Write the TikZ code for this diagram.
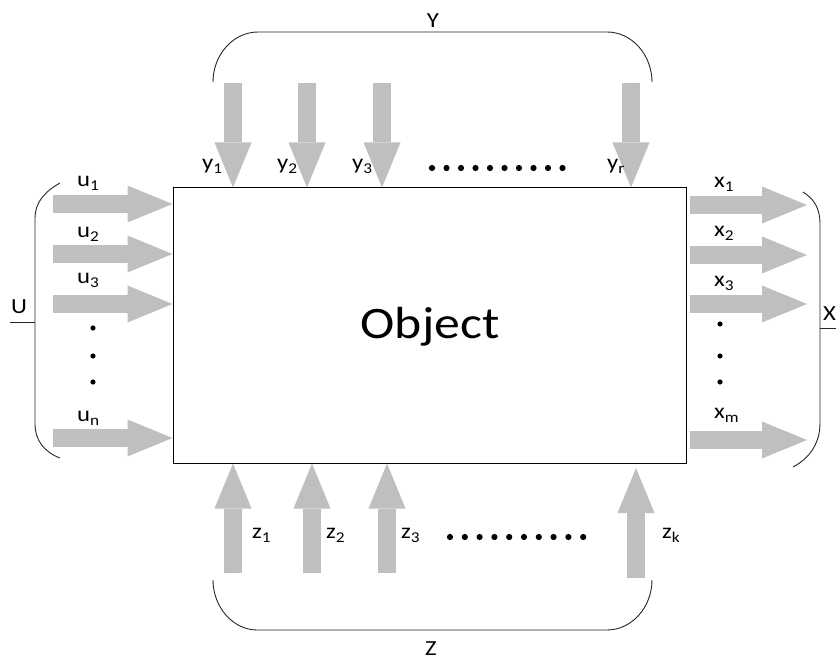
\documentclass[tikz,border=0pt]{standalone}
\usepackage{fontspec}
\setmainfont{Carlito}[FakeStretch=1.15]
\usetikzlibrary{arrows.meta}
\definecolor{arrowgray}{RGB}{191,191,191}
\newcommand\sublab[2]{#1\raisebox{-4pt}{\fontsize{15}{15}\selectfont #2}}
\begin{document}
\begin{tikzpicture}[x=1pt,y=-1pt,
  bigarrow/.style={draw=arrowgray, line width=18pt,
    -{Triangle[length=45pt,width=37pt,line width=0pt,fill=arrowgray]}},
  lbl/.style={font=\fontsize{21.5}{21.5}\selectfont, anchor=base, inner sep=0pt},
  slbl/.style={lbl, anchor=base west},
  brace/.style={draw=black!85, line width=0.9pt},
  objbox/.style={draw=black, line width=1pt, minimum width=513pt, minimum height=275pt, inner sep=0pt},
  dot/.style={fill=black}]
\useasboundingbox (0,0) rectangle (836,660);
% object box
\node[objbox] (obj) at (429.5,325.5) {};
\node[font=\fontsize{45}{45}\selectfont, anchor=base, inner sep=0pt] (objlbl) at (430,339) {Object};
% left inputs u
\foreach \n/\y in {1/204,2/254,3/304,n/438}{
  \coordinate (us\n) at (53,\y);
  \draw[bigarrow] (us\n) -- (us\n -| obj.west);
}
\node[slbl] (lu1) at (77,187) {\sublab{u}{1}};
\node[slbl] (lu2) at (77,238) {\sublab{u}{2}};
\node[slbl] (lu3) at (77,284) {\sublab{u}{3}};
\node[slbl] (lun) at (77,421) {\sublab{u}{n}};
\foreach \y in {328,356,382} \fill[dot] (93,\y) circle (2.6pt);
% right outputs x
\foreach \n/\y in {1/205,2/255,3/304,m/440}{
  \coordinate (xs\n) at (690,\y);
  \coordinate (xe\n) at (807,\y);
  \draw[bigarrow] (xs\n) -- (xe\n);
}
\node[slbl] (lx1) at (714,188) {\sublab{x}{1}};
\node[slbl] (lx2) at (714,237) {\sublab{x}{2}};
\node[slbl] (lx3) at (714,287) {\sublab{x}{3}};
\node[slbl] (lxm) at (714,419) {\sublab{x}{m}};
\foreach \y in {324,356,382} \fill[dot] (720,\y) circle (2.6pt);
% top inputs y
\foreach \n/\x in {1/233,2/307,3/382,r/631}{
  \coordinate (ys\n) at (\x,83);
  \draw[bigarrow] (ys\n) -- (ys\n |- obj.north);
}
\node[slbl] (ly1) at (202,170) {\sublab{y}{1}};
\node[slbl] (ly2) at (277,170) {\sublab{y}{2}};
\node[slbl] (ly3) at (352,170) {\sublab{y}{3}};
\node[slbl] (lyr) at (607,170) {\sublab{y}{r}};
\foreach \i in {0,...,9} \fill[dot] (432+\i*14.5,168) circle (3.1pt);
% bottom inputs z
\foreach \n/\x/\b in {1/233/573,2/312/573,3/387/573}{
  \coordinate (zs\n) at (\x,\b);
  \draw[bigarrow] (zs\n) -- (zs\n |- obj.south);
}
\coordinate (zsk) at (636,578);
\coordinate (zek) at (636,468);
\draw[bigarrow] (zsk) -- (zek);
\node[slbl] (lz1) at (252,538) {\sublab{z}{1}};
\node[slbl] (lz2) at (326,538) {\sublab{z}{2}};
\node[slbl] (lz3) at (401,538) {\sublab{z}{3}};
\node[slbl] (lzk) at (662,538) {\sublab{z}{k}};
\foreach \i in {0,...,9} \fill[dot] (450+\i*14.8,537) circle (3.1pt);
% braces
\draw[brace] (60,183) .. controls (44,192) and (35,203) .. (35,218) -- (35,424) .. controls (35,440) and (44,452) .. (60,458);
\draw[brace] (10,322) -- (35,322);
\node[lbl] (lU) at (19,314) {U};
\draw[brace] (803,192) .. controls (814,199) and (820,208) .. (820,224) -- (820,423) .. controls (820,443) and (810,458) .. (793,467);
\draw[brace] (820,328) -- (836,328);
\node[lbl, anchor=base west] (lX) at (823,321) {X};
\draw[brace] (213,82) .. controls (213,55) and (233,32) .. (258,32) -- (607,32) .. controls (632,32) and (652,55) .. (652,82);
\node[lbl] (lY) at (433,28) {Y};
\draw[brace] (213,580) .. controls (213,607) and (233,630) .. (257,630) -- (607,630) .. controls (632,630) and (652,607) .. (652,580);
\node[lbl] (lZ) at (431,655) {Z};
\end{tikzpicture}
\end{document}
